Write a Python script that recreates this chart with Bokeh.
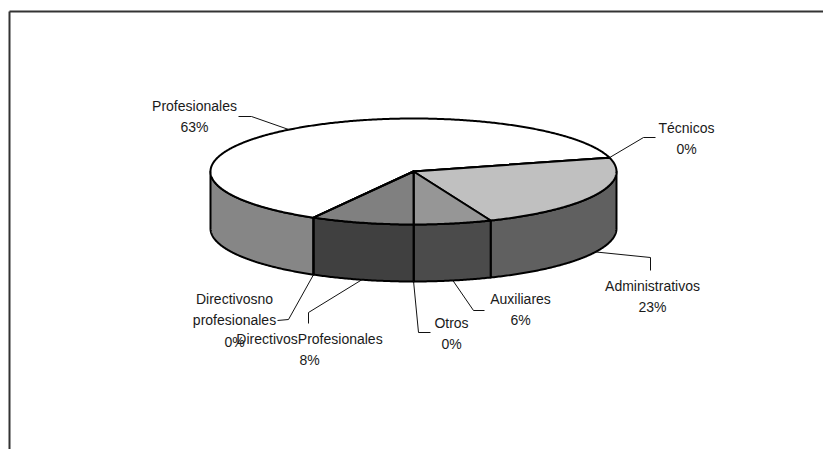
import numpy as np
from bokeh.plotting import figure
from bokeh.models import Range1d
from bokeh.core.properties import value
from bokeh.embed import file_html
from bokeh.resources import INLINE

# ---------------- data ----------------
categories = ["Profesionales", "Técnicos", "Administrativos", "Auxiliares",
              "Otros", "DirectivosProfesionales", "Directivosno profesionales"]
shares = [62.6, 0.0, 23.0, 6.2, 0.0, 8.2, 0.0]

# ---------------- style / layout ----------------
top_colors = ["#ffffff", "#c0c0c0", "#c0c0c0", "#969696", "#969696", "#808080", "#808080"]
side_colors = ["#868686", "#606060", "#606060", "#4b4b4b", "#4b4b4b", "#404040", "#404040"]
CX, CY, RX, RY, DEPTH = 413.0, 171.0, 203.0, 53.0, 57.0
START_DEG = 119.5
LINE_GAP = 21.5
label_pos = [(194, 105), (686, 127), (652, 285), (520, 298), (451, 322), (309, 338), (234, 298)]
leader_pts = [[(251, 116), (238, 116)], [(643, 137), (655, 137)], [(650, 257), (650, 270)],
              [(473, 310), (484, 310)], [(418, 332), (430, 332)], [(308, 312), (308, 323)],
              [(288, 319), (277, 320)]]
FONT = value("Liberation Sans")
TXT = "#1a1a1a"

W, H = 823, 449
p = figure(width=W, height=H, output_backend="svg", toolbar_location=None,
           x_range=Range1d(0, W), y_range=Range1d(H, 0),
           x_axis_location=None, y_axis_location=None, min_border=0)
p.grid.visible = False
p.outline_line_color = None
p.background_fill_color = "white"
p.border_fill_color = "white"

def ex(t):
    return CX + RX * np.cos(np.radians(t))

def ey(t):
    return CY + RY * np.sin(np.radians(t))

total = sum(shares)
starts, ends = [], []
acc = START_DEG
for s in shares:
    starts.append(acc)
    acc += 360.0 * s / total
    ends.append(acc)

# ---- side walls (front half, 0..180 deg) ----
side_xs, side_ys, side_fill = [], [], []
for i in range(len(shares)):
    s, e = starts[i], ends[i]
    for off in (-360.0, 0.0, 360.0):
        a0 = max(s + off, 0.0)
        a1 = min(e + off, 180.0)
        if a1 > a0 or (shares[i] == 0 and 0.0 <= s + off <= 180.0):
            n = max(2, int((a1 - a0) / 0.5) + 2)
            t = np.linspace(a0, a1, n)
            xs = np.concatenate([ex(t), ex(t[::-1])])
            ys = np.concatenate([ey(t), ey(t[::-1]) + DEPTH])
            side_xs.append(list(xs))
            side_ys.append(list(ys))
            side_fill.append(side_colors[i])
p.patches(side_xs, side_ys, fill_color=side_fill, line_color="black", line_width=2,
          line_join="round")

# ---- top sectors ----
top_xs, top_ys = [], []
for i in range(len(shares)):
    s, e = starts[i], ends[i]
    n = max(2, int((e - s) / 0.5) + 2)
    t = np.linspace(s, e, n)
    top_xs.append([CX] + list(ex(t)))
    top_ys.append([CY] + list(ey(t)))
p.patches(top_xs, top_ys, fill_color=top_colors, line_color="black", line_width=2,
          line_join="round")

# ---- leader lines and labels ----
lx, ly, lt = [], [], []
for i, cat in enumerate(categories):
    m = 0.5 * (starts[i] + ends[i])
    ax = ex(m)
    ay = ey(m) + (DEPTH if np.sin(np.radians(m)) > 0 else 0.0)
    pts = [(ax, ay)] + leader_pts[i]
    p.line([q[0] for q in pts], [q[1] for q in pts], line_color="#111111", line_width=1)
    lines = cat.split(" ") + ["%d%%" % round(shares[i])]
    x0, y0 = label_pos[i]
    for k, ln in enumerate(lines):
        lx.append(x0)
        ly.append(y0 + k * LINE_GAP)
        lt.append(ln)
p.text(lx, ly, text=lt, text_font=FONT, text_font_size="14px", text_align="center",
       text_baseline="middle", text_color=TXT)

# ---- chart area frame (left and top edges visible) ----
p.line([9, 9], [11, H], line_color="#333333", line_width=2)
p.line([9, W], [11, 11], line_color="#333333", line_width=2)

open("out.html", "w").write(file_html(p, INLINE))
